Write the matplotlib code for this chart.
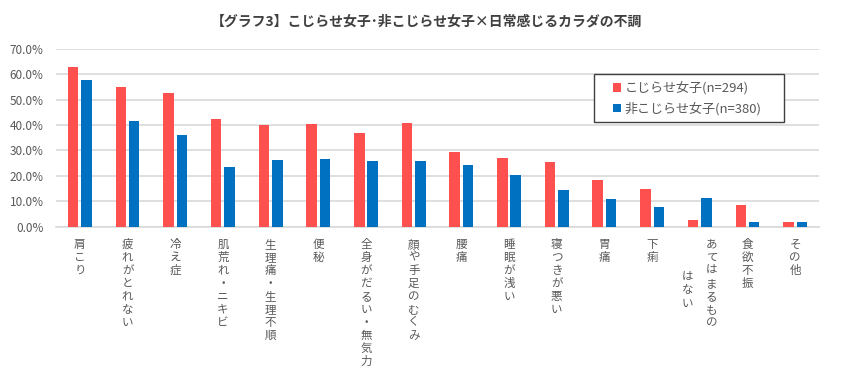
import matplotlib
matplotlib.use("Agg")
import matplotlib.pyplot as plt
import matplotlib.transforms as mtransforms
from matplotlib.patches import Rectangle
import numpy as np

plt.rcParams['font.family'] = ['Noto Sans CJK JP', 'DejaVu Sans']

title = "【グラフ3】こじらせ女子･非こじらせ女子×日常感じるカラダの不調"
categories = ["肩こり", "疲れがとれない", "冷え症", "肌荒れ・ニキビ", "生理痛・生理不順",
              "便秘", "全身がだるい・無気力", "顔や手足のむくみ", "腰痛", "睡眠が浅い",
              "寝つきが悪い", "胃痛", "下痢", "あてはまるもの\nはない", "食欲不振", "その他"]
series_names = ["こじらせ女子(n=294)", "非こじらせ女子(n=380)"]
kojirase = [63.0, 55.0, 52.6, 42.4, 40.0, 40.4, 36.9, 40.8, 29.4, 27.0, 25.5, 18.4, 14.8, 2.6, 8.6, 2.0]
non_kojirase = [57.9, 41.6, 36.1, 23.5, 26.3, 26.7, 25.9, 25.9, 24.3, 20.4, 14.4, 10.9, 7.7, 11.3, 1.9, 1.9]
yticks = [0, 10, 20, 30, 40, 50, 60, 70]

red = "#FF5050"
blue = "#0070C0"
grid_c = "#D9D9D9"
text_c = "#595959"

fig = plt.figure(figsize=(8.42, 3.88), dpi=100)
ax = fig.add_axes([0.0665, 0.4157, 0.9062, 0.4583])

x = np.arange(len(categories))
w = 0.22
ax.bar(x - 0.14, kojirase, width=w, color=red, label=series_names[0], zorder=3)
ax.bar(x + 0.14, non_kojirase, width=w, color=blue, label=series_names[1], zorder=3)

ax.set_xlim(-0.5, len(categories) - 0.5)
ax.set_ylim(0, 70)
ax.set_yticks(yticks)
ax.set_yticklabels([f"{v:.1f}%" for v in yticks], color=text_c, fontsize=8.5)
ax.yaxis.grid(True, color=grid_c, linewidth=1.2, zorder=0)
ax.set_axisbelow(True)
ax.tick_params(axis='y', length=0, pad=9)
ax.tick_params(axis='x', length=0)
ax.set_xticks(x)
ax.set_xticklabels([""] * len(categories))
for s in ["top", "right", "left"]:
    ax.spines[s].set_visible(False)
ax.spines["bottom"].set_color(grid_c)
ax.spines["bottom"].set_linewidth(1.2)

# vertical (stacked) category labels
base = mtransforms.blended_transform_factory(ax.transData, ax.transAxes)
for i, lab in enumerate(categories):
    cols = lab.split("\n")
    n = len(cols)
    for j, col in enumerate(cols):
        dx = ((n - 1) / 2.0 - j) * 24 / 100.0
        dy = -(11 + (2.8 * 11.7 if j > 0 else 0)) / 100.0
        tr = base + mtransforms.ScaledTranslation(dx, dy, fig.dpi_scale_trans)
        ax.text(i, 0, "\n".join(list(col)), transform=tr, ha="center", va="top",
                fontsize=8.3, color=text_c, linespacing=1.0)

fig.text(0.506, 0.945, title, ha="center", va="center", fontsize=10,
         fontweight="bold", color="#404040")

# legend frame (drawn separately for asymmetric padding)
fig.patches.append(Rectangle((594 / 842, (388 - 122) / 388), 190 / 842, 48 / 388,
                             transform=fig.transFigure, fill=True, facecolor="white",
                             edgecolor="#404040", linewidth=1.0, zorder=5))
leg = fig.legend(loc="center left", bbox_to_anchor=(613 / 842, (388 - 98.5) / 388),
                 frameon=False, fontsize=9.4, handlelength=0.65, handleheight=0.65,
                 handletextpad=0.25, borderpad=0.0, labelspacing=0.55,
                 borderaxespad=0)
leg.set_zorder(6)
for t in leg.get_texts():
    t.set_color(text_c)

fig.savefig("out.png", dpi=100)
